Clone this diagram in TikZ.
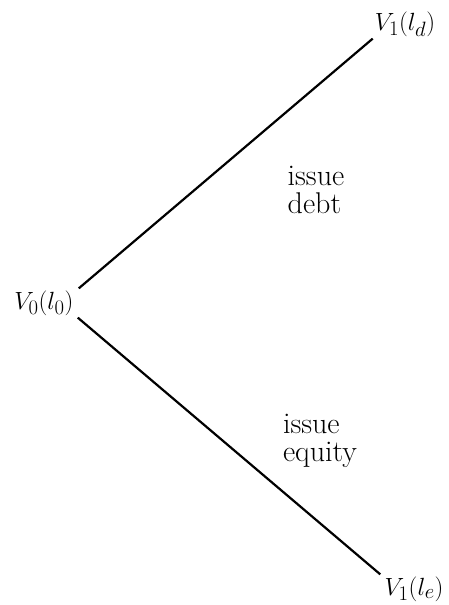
\documentclass[tikz,border=0pt]{standalone}
\usepackage{tikz}
\tikzset{
	val/.style={inner sep=2pt, font=\fontsize{30}{28}\selectfont},
	choice/.style={align=left, inner sep=0pt, font=\fontsize{30}{28}\selectfont},
	branch/.style={line width=2.2pt}
}
\begin{document}
\begin{tikzpicture}[x=1pt,y=-1pt]
				\useasboundingbox (0,0) rectangle (449,605);
				% values
				\node[val] (v0) at (44,303) {$V_0(l_0)$};
				\node[val] (vd) at (405,24) {$V_1(l_d)$};
				\node[val] (ve) at (414,589) {$V_1(l_e)$};
				% branches
				\draw[branch] ([xshift=3pt]v0.north east) -- (vd.south west);
				\draw[branch] ([xshift=2pt]v0.south east) -- ([xshift=-2pt]ve.north west);
				% labels
				\node[choice] (debt) at (316,190) {issue\\debt};
				\node[choice] (equity) at (320,441) {issue\\equity};
			\end{tikzpicture}
\end{document}
